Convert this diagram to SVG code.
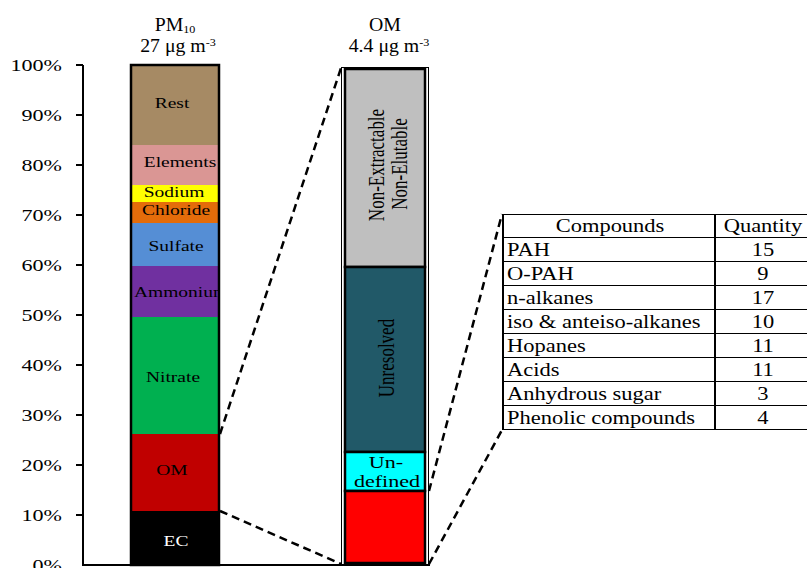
<svg xmlns="http://www.w3.org/2000/svg" width="807" height="568" viewBox="0 0 807 568">
<style>
text{font-family:"Liberation Serif","Times New Roman",serif;fill:#000}
.ax{font-size:17px;text-anchor:end}
.seg{font-size:15px;text-anchor:middle}
.om{font-size:17px;text-anchor:middle}
.tt{font-size:18px;text-anchor:middle}
.tb{font-size:18px}
.mid{text-anchor:middle}
.dash{fill:none;stroke:#000;stroke-width:2.5;stroke-dasharray:8 5}
.grid{stroke:#000;stroke-width:1.2}
</style>
<defs>
<clipPath id="ammclip"><rect x="132" y="266" width="86" height="51"/></clipPath>
</defs>
<rect width="807" height="568" fill="#fff"/>
<g id="axis">
<line x1="83" y1="65" x2="83" y2="566" stroke="#000" stroke-width="2"/>
<line x1="82" y1="565" x2="430" y2="565" stroke="#000" stroke-width="2"/>
<g stroke="#000" stroke-width="2">
<line x1="76" y1="65" x2="83" y2="65"/><line x1="76" y1="115" x2="83" y2="115"/><line x1="76" y1="165" x2="83" y2="165"/><line x1="76" y1="215" x2="83" y2="215"/><line x1="76" y1="265" x2="83" y2="265"/><line x1="76" y1="315" x2="83" y2="315"/><line x1="76" y1="365" x2="83" y2="365"/><line x1="76" y1="415" x2="83" y2="415"/><line x1="76" y1="465" x2="83" y2="465"/><line x1="76" y1="515" x2="83" y2="515"/>
</g>
<text class="ax" transform="translate(62,71) scale(1.3,1)">100%</text>
<text class="ax" transform="translate(62,121) scale(1.3,1)">90%</text>
<text class="ax" transform="translate(62,171) scale(1.3,1)">80%</text>
<text class="ax" transform="translate(62,221) scale(1.3,1)">70%</text>
<text class="ax" transform="translate(62,271) scale(1.3,1)">60%</text>
<text class="ax" transform="translate(62,321) scale(1.3,1)">50%</text>
<text class="ax" transform="translate(62,371) scale(1.3,1)">40%</text>
<text class="ax" transform="translate(62,421) scale(1.3,1)">30%</text>
<text class="ax" transform="translate(62,471) scale(1.3,1)">20%</text>
<text class="ax" transform="translate(62,521) scale(1.3,1)">10%</text>
<text class="ax" transform="translate(62,571) scale(1.3,1)">0%</text>
</g>
<g id="pm10-bar">
<text class="tt" transform="translate(175,31) scale(1.1,1)">PM<tspan font-size="11" dy="2">10</tspan></text>
<text class="tt" transform="translate(178,52) scale(1.1,1)">27 μg m<tspan font-size="11" dy="-6">-3</tspan></text>
<rect x="131" y="65" width="88" height="80" fill="#A68A64"/>
<rect x="131" y="145" width="88" height="40" fill="#DA9694"/>
<rect x="131" y="185" width="88" height="17" fill="#FFFF00"/>
<rect x="131" y="202" width="88" height="21" fill="#E46C0A"/>
<rect x="131" y="223" width="88" height="43" fill="#558ED5"/>
<rect x="131" y="266" width="88" height="51" fill="#7030A0"/>
<rect x="131" y="317" width="88" height="117" fill="#00B050"/>
<rect x="131" y="434" width="88" height="77" fill="#C00000"/>
<rect x="131" y="511" width="88" height="54" fill="#000"/>
<rect x="131" y="65" width="88" height="500" fill="none" stroke="#000" stroke-width="2.5"/>
<text class="seg" transform="translate(172,108) scale(1.3,1)">Rest</text>
<text class="seg" transform="translate(180,167) scale(1.3,1)">Elements</text>
<text class="seg" transform="translate(174,197) scale(1.3,1)">Sodium</text>
<text class="seg" transform="translate(176,215) scale(1.3,1)">Chloride</text>
<text class="seg" transform="translate(176,251) scale(1.3,1)">Sulfate</text>
<g clip-path="url(#ammclip)"><text class="seg" transform="translate(181,297) scale(1.3,1)">Ammonium</text></g>
<text class="seg" transform="translate(173,382) scale(1.3,1)">Nitrate</text>
<text class="seg" transform="translate(172,475) scale(1.3,1)">OM</text>
<text class="seg" transform="translate(176,546) scale(1.3,1)" style="fill:#fff">EC</text>
</g>
<g id="om-bar">
<text class="tt" transform="translate(385,31) scale(1.1,1)">OM</text>
<text class="tt" transform="translate(389,52) scale(1.1,1)">4.4 μg m<tspan font-size="11" dy="-6">-3</tspan></text>
<rect x="341.5" y="67.5" width="87" height="497" fill="#fff" stroke="#000" stroke-width="1"/>
<rect x="345" y="69" width="80" height="198" fill="#BFBFBF" stroke="#000" stroke-width="2.5"/>
<rect x="345" y="267" width="80" height="185" fill="#215968" stroke="#000" stroke-width="2.5"/>
<rect x="345" y="452" width="80" height="39" fill="#00FFFF" stroke="#000" stroke-width="2.5"/>
<rect x="345" y="491" width="80" height="72" fill="#FF0000" stroke="#000" stroke-width="2.5"/>
<text class="om" transform="translate(384,165) scale(1.3,1) rotate(-90)">Non-Extractable</text>
<text class="om" transform="translate(407,164) scale(1.3,1) rotate(-90)">Non-Elutable</text>
<text class="om" transform="translate(394,358) scale(1.3,1) rotate(-90)">Unresolved</text>
<text class="om" transform="translate(386,468) scale(1.3,1)">Un-</text>
<text class="om" transform="translate(387,487) scale(1.3,1)">defined</text>
</g>
<g id="compounds-table">
<line x1="503" y1="214" x2="503" y2="430" stroke="#000" stroke-width="2"/>
<line x1="715" y1="214" x2="715" y2="430" stroke="#000" stroke-width="2"/>
<g class="grid">
<line x1="503" y1="214.5" x2="807" y2="214.5"/>
<line x1="503" y1="237.5" x2="807" y2="237.5"/>
<line x1="503" y1="261.5" x2="807" y2="261.5"/>
<line x1="503" y1="285.5" x2="807" y2="285.5"/>
<line x1="503" y1="309.5" x2="807" y2="309.5"/>
<line x1="503" y1="333.5" x2="807" y2="333.5"/>
<line x1="503" y1="357.5" x2="807" y2="357.5"/>
<line x1="503" y1="381.5" x2="807" y2="381.5"/>
<line x1="503" y1="405.5" x2="807" y2="405.5"/>
<line x1="503" y1="429.5" x2="807" y2="429.5"/>
</g>
<text class="tb mid" transform="translate(610,232) scale(1.25,1)">Compounds</text>
<text class="tb mid" transform="translate(763,232) scale(1.25,1)">Quantity</text>
<text class="tb" transform="translate(507,256) scale(1.25,1)">PAH</text>
<text class="tb" transform="translate(507,280) scale(1.25,1)">O-PAH</text>
<text class="tb" transform="translate(507,304) scale(1.25,1)">n-alkanes</text>
<text class="tb" transform="translate(507,328) scale(1.25,1)">iso &amp; anteiso-alkanes</text>
<text class="tb" transform="translate(507,352) scale(1.25,1)">Hopanes</text>
<text class="tb" transform="translate(507,376) scale(1.25,1)">Acids</text>
<text class="tb" transform="translate(507,400) scale(1.25,1)">Anhydrous sugar</text>
<text class="tb" transform="translate(507,424) scale(1.25,1)">Phenolic compounds</text>
<text class="tb mid" transform="translate(763,256) scale(1.25,1)">15</text>
<text class="tb mid" transform="translate(763,280) scale(1.25,1)">9</text>
<text class="tb mid" transform="translate(763,304) scale(1.25,1)">17</text>
<text class="tb mid" transform="translate(763,328) scale(1.25,1)">10</text>
<text class="tb mid" transform="translate(763,352) scale(1.25,1)">11</text>
<text class="tb mid" transform="translate(763,376) scale(1.25,1)">11</text>
<text class="tb mid" transform="translate(763,400) scale(1.25,1)">3</text>
<text class="tb mid" transform="translate(763,424) scale(1.25,1)">4</text>
</g>
<g id="connectors">
<line class="dash" x1="220" y1="434" x2="341" y2="68"/>
<line class="dash" x1="220" y1="511" x2="341" y2="564"/>
<line class="dash" x1="429" y1="491" x2="502" y2="214"/>
<line class="dash" x1="429" y1="564" x2="502" y2="430"/>
</g>
</svg>
